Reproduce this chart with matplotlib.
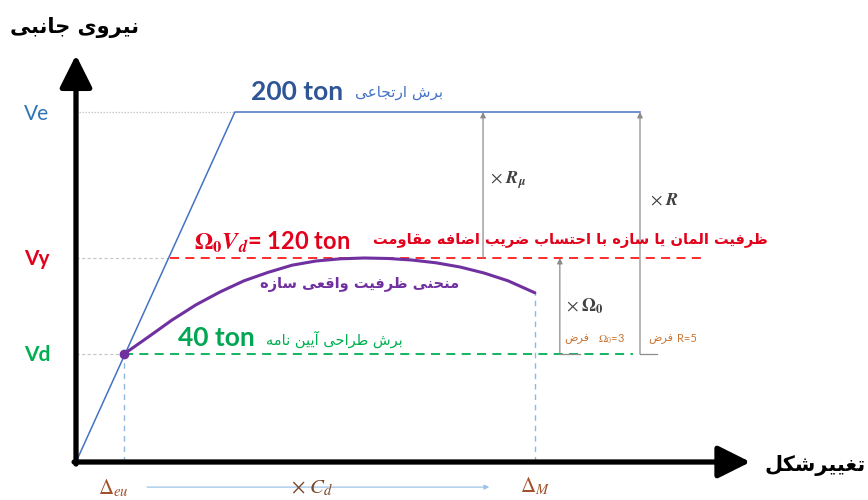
import numpy as np
import matplotlib
matplotlib.use("Agg")
import matplotlib.pyplot as plt
from matplotlib import font_manager
from matplotlib.ft2font import FT2Font

# ---------------- values (ton / deformation units) ----------------
V_design = 40        # code design shear, Vd
omega0 = 3           # overstrength factor
R = 5                # response modification factor
V_over = omega0 * V_design     # 120 ton
V_elastic = R * V_design       # 200 ton

delta_eu = 1.0       # elastic deformation under Vd
delta_e = 3.31       # deformation where the elastic line reaches Ve
delta_m = 9.56       # maximum inelastic deformation

# actual capacity curve of the structure
curve_delta = [1.0, 1.5, 2.0, 2.5, 3.0, 3.5, 4.0, 4.5, 5.0, 5.5, 6.0,
               6.5, 7.0, 7.5, 8.0, 8.5, 9.0, 9.56]
curve_force = [40, 54, 68.3, 81, 91.7, 101, 108, 114, 117.5, 119.3, 120,
               119.6, 118.3, 116, 112.5, 107.5, 101, 91]

# ---------------- Persian text shaping ----------------
FORMS = {
    # letter: (isolated, final, initial, medial)
    "\u0622": ("\uFE81", "\uFE82", None, None),
    "\u0627": ("\uFE8D", "\uFE8E", None, None),
    "\u0628": ("\uFE8F", "\uFE90", "\uFE91", "\uFE92"),
    "\u062A": ("\uFE95", "\uFE96", "\uFE97", "\uFE98"),
    "\u062C": ("\uFE9D", "\uFE9E", "\uFE9F", "\uFEA0"),
    "\u062D": ("\uFEA1", "\uFEA2", "\uFEA3", "\uFEA4"),
    "\u062E": ("\uFEA5", "\uFEA6", "\uFEA7", "\uFEA8"),
    "\u062F": ("\uFEA9", "\uFEAA", None, None),
    "\u0631": ("\uFEAD", "\uFEAE", None, None),
    "\u0632": ("\uFEAF", "\uFEB0", None, None),
    "\u0633": ("\uFEB1", "\uFEB2", "\uFEB3", "\uFEB4"),
    "\u0634": ("\uFEB5", "\uFEB6", "\uFEB7", "\uFEB8"),
    "\u0636": ("\uFEBD", "\uFEBE", "\uFEBF", "\uFEC0"),
    "\u0637": ("\uFEC1", "\uFEC2", "\uFEC3", "\uFEC4"),
    "\u0638": ("\uFEC5", "\uFEC6", "\uFEC7", "\uFEC8"),
    "\u0639": ("\uFEC9", "\uFECA", "\uFECB", "\uFECC"),
    "\u063A": ("\uFECD", "\uFECE", "\uFECF", "\uFED0"),
    "\u0641": ("\uFED1", "\uFED2", "\uFED3", "\uFED4"),
    "\u0642": ("\uFED5", "\uFED6", "\uFED7", "\uFED8"),
    "\u06A9": ("\uFB8E", "\uFB8F", "\uFB90", "\uFB91"),
    "\u0644": ("\uFEDD", "\uFEDE", "\uFEDF", "\uFEE0"),
    "\u0645": ("\uFEE1", "\uFEE2", "\uFEE3", "\uFEE4"),
    "\u0646": ("\uFEE5", "\uFEE6", "\uFEE7", "\uFEE8"),
    "\u0647": ("\uFEE9", "\uFEEA", "\uFEEB", "\uFEEC"),
    "\u0648": ("\uFEED", "\uFEEE", None, None),
    "\u06CC": ("\uFBFC", "\uFBFD", "\uFBFE", "\uFBFF"),
}

_dv = FT2Font(font_manager.findfont("DejaVu Sans"))
# fall back to Arabic forms when a Persian presentation form is missing
if _dv.get_char_index(0xFBFC) == 0:
    FORMS["\u06CC"] = ("\uFEEF", "\uFEF0", "\uFEF3", "\uFEF4")
if _dv.get_char_index(0xFB8E) == 0:
    FORMS["\u06A9"] = ("\uFED9", "\uFEDA", "\uFEDB", "\uFEDC")


def fa(text):
    out = []
    for i, ch in enumerate(text):
        if ch not in FORMS:
            out.append(ch)
            continue
        iso, fin, ini, med = FORMS[ch]
        prev = text[i - 1] if i > 0 else ""
        nxt = text[i + 1] if i + 1 < len(text) else ""
        join_prev = prev in FORMS and FORMS[prev][2] is not None
        join_next = nxt in FORMS and ini is not None
        if join_prev and join_next:
            out.append(med)
        elif join_prev:
            out.append(fin)
        elif join_next:
            out.append(ini)
        else:
            out.append(iso)
    return "".join(out)[::-1]


# ---------------- figure ----------------
plt.rcParams["mathtext.fontset"] = "stix"
W, H = 868, 500
fig = plt.figure(figsize=(W / 100, H / 100), dpi=100)
ax = fig.add_axes([0, 0, 1, 1])

# schematic force axis: piecewise-linear spacing between the key shear levels
force_knots = [-1000, 0, V_design, V_over, V_elastic, 1000]
height_knots = [-2700, 0, 108, 204, 350, 1810]


def fwd(v):
    return np.interp(v, force_knots, height_knots)


def inv(h):
    return np.interp(h, height_knots, force_knots)


ax.set_yscale("function", functions=(fwd, inv))
ax.set_xlim(-76 / 48, (W - 76) / 48)
ax.set_ylim(inv(-38), inv(H - 38))
ax.axis("off")

PERSIAN = ["DejaVu Sans"]
LATIN = ["Lato", "DejaVu Sans"]


def put(px, py, s, **kw):
    kw.setdefault("ha", "center")
    kw.setdefault("va", "center")
    ax.text(px / W, 1 - py / H, s, transform=ax.transAxes, **kw)


BLUE = "#4472C4"
RED = "#FF1A1A"
PURPLE = "#7030A0"
GREEN = "#00B050"
LBLUE = "#8FB8E0"
GRAY = "#8C8C8C"
DOT = "#C8C8C8"
BROWN = "#A0522D"

# reference dotted lines from the force axis
ax.plot([0, delta_e], [V_elastic, V_elastic], ls=(0, (1.2, 1.2)), color=DOT, lw=0.9)
ax.plot([0, 1.96], [V_over, V_over], ls=(0, (2.5, 2)), color=DOT, lw=0.9)
ax.plot([0, delta_eu], [V_design, V_design], ls=(0, (2.5, 2)), color=DOT, lw=0.9)

# deformation guides
ax.plot([delta_eu, delta_eu], [0, V_design], ls=(0, (4, 3.5)), color=LBLUE, lw=1.0)
ax.plot([delta_m, delta_m], [0, curve_force[-1]], ls=(0, (4, 3.5)), color=LBLUE, lw=1.0)

# shear levels
ax.plot([1.96, 13.1], [V_over, V_over], ls=(0, (5, 3.5)), color=RED, lw=1.3)
ax.plot([delta_eu, 11.6], [V_design, V_design], ls=(0, (5, 3.5)), color=GREEN, lw=1.3)

# elastic response
ax.plot([0, delta_e, 11.75], [0, V_elastic, V_elastic], color=BLUE, lw=1.1)

# actual capacity curve
ax.plot(curve_delta, curve_force, color=PURPLE, lw=2.2, solid_capstyle="round")
ax.plot([delta_eu], [V_design], "o", color=PURPLE, ms=6)

# factor arrows
arrow_kw = dict(arrowstyle="-|>", color=GRAY, lw=0.9, mutation_scale=8,
                shrinkA=0, shrinkB=0)
ax.annotate("", xy=(8.48, V_elastic), xytext=(8.48, V_over), arrowprops=arrow_kw)
ax.annotate("", xy=(10.08, V_over), xytext=(10.08, V_design), arrowprops=arrow_kw)
ax.annotate("", xy=(11.75, V_elastic), xytext=(11.75, V_design), arrowprops=arrow_kw)
ax.plot([10.08, 10.5], [V_design, V_design], color=GRAY, lw=0.9)
ax.plot([11.75, 12.1], [V_design, V_design], color=GRAY, lw=0.9)

# Cd arrow under the deformation axis
ax.annotate("", xy=(delta_m - 0.95, -9.3), xytext=(1.48, -9.3),
            arrowprops=dict(arrowstyle="-|>", color="#9DC3E6", lw=0.9,
                            mutation_scale=7, shrinkA=0, shrinkB=0))

# main axes arrows
axis_kw = dict(arrowstyle="-|>,head_length=0.9,head_width=0.45", color="black",
               lw=3.8, mutation_scale=22, shrinkA=0, shrinkB=0)
ax.annotate("", xy=(0, inv(407)), xytext=(0, inv(-2)), arrowprops=axis_kw)
ax.annotate("", xy=(14.05, 0), xytext=(-0.04, 0), arrowprops=axis_kw)

# ---------------- labels ----------------
put(74, 27, fa("نیروی جانبی"), family=PERSIAN, fontsize=15, fontweight="bold")
put(815, 466, fa("تغییرشکل"), family=PERSIAN, fontsize=15, fontweight="bold")

put(37, 114, "Ve", family=LATIN, fontsize=15, color="#2E75B6")
put(37, 259, "Vy", family=LATIN, fontsize=15, color="#E3001B", fontweight="bold")
put(37, 355, "Vd", family=LATIN, fontsize=15, color=GREEN, fontweight="bold")

put(297, 92, f"{V_elastic} ton", family=LATIN, fontsize=19, fontweight="bold",
    color="#2F5597")
put(399, 93, fa("برش ارتجاعی"), family=PERSIAN, fontsize=11, color=BLUE)

put(272, 242, r"$\mathbf{\Omega_0}\mathbfit{V_d}$" + f"= {V_over} ton",
    family=LATIN, fontsize=17, fontweight="bold", color="#E3001B")
put(570, 240, fa("ظرفیت المان یا سازه با احتساب ضریب اضافه مقاومت"),
    family=PERSIAN, fontsize=10.5, fontweight="bold", color="#E3001B")

put(360, 285, fa("منحنی ظرفیت واقعی سازه"), family=PERSIAN, fontsize=10.5,
    fontweight="bold", color=PURPLE)

put(216, 338, f"{V_design} ton", family=LATIN, fontsize=19, fontweight="bold",
    color="#00A651")
put(334, 339, fa("برش طراحی آیین نامه"), family=PERSIAN, fontsize=10.5,
    color=GREEN)

put(508, 180, r"$\times\ \mathbfit{R_\mu}$", fontsize=13, color="#404040")
put(665, 200, r"$\times\ \mathbfit{R}$", fontsize=13, color="#404040")
put(585, 306, r"$\times\ \mathbf{\Omega_0}$", fontsize=13, color="#404040")

put(577, 339, fa("فرض"), family=PERSIAN, fontsize=8, color="#C87533")
put(612, 339, r"$\Omega_0$=3", family=LATIN, fontsize=8, color="#C87533")
put(661, 339, fa("فرض"), family=PERSIAN, fontsize=8, color="#C87533")
put(687, 339, f"R={R}", family=LATIN, fontsize=8, color="#C87533")

put(113, 488, r"$\Delta_{eu}$", fontsize=15, color=BROWN)
put(535, 486, r"$\Delta_{M}$", fontsize=15, color=BROWN)
put(312, 488, r"$\times\ \mathit{C_d}$", fontsize=15, color="#7B4A2A")

fig.savefig("out.png", dpi=100)
